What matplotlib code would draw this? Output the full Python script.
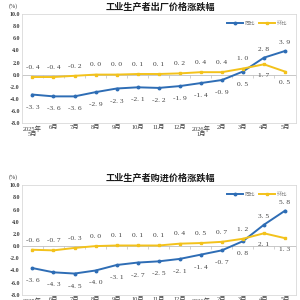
import matplotlib
matplotlib.use("Agg")
import matplotlib.pyplot as plt
import numpy as np

months = ["2025年\n5月", "6月", "7月", "8月", "9月", "10月", "11月", "12月", "2026年\n1月", "2月", "3月", "4月", "5月"]
ppi_yoy = [-3.3, -3.6, -3.6, -2.9, -2.3, -2.1, -2.2, -1.9, -1.4, -0.9, 0.5, 2.8, 3.9]
ppi_mom = [-0.4, -0.4, -0.2, 0.0, 0.0, 0.1, 0.1, 0.2, 0.4, 0.4, 1.0, 1.7, 0.5]
ppirm_yoy = [-3.6, -4.3, -4.5, -4.0, -3.1, -2.7, -2.5, -2.1, -1.4, -0.7, 0.8, 3.5, 5.8]
ppirm_mom = [-0.6, -0.7, -0.3, 0.0, 0.1, 0.1, 0.1, 0.4, 0.5, 0.7, 1.2, 2.1, 1.3]
yticks = [10.0, 8.0, 6.0, 4.0, 2.0, 0.0, -2.0, -4.0, -6.0, -8.0]
titles = ["工业生产者出厂价格涨跌幅", "工业生产者购进价格涨跌幅"]
legend_labels = ["同比", "环比"]

BLUE = "#2E6DB5"
YELLOW = "#F3C21B"
SERIF = ["Liberation Serif", "Noto Sans CJK SC"]
CJK = ["Noto Sans CJK SC", "DejaVu Sans"]

fig = plt.figure(figsize=(3, 3), dpi=100)
positions = [[0.073, 0.59, 0.912, 0.363], [0.073, 0.017, 0.912, 0.366]]
datasets = [(ppi_yoy, ppi_mom), (ppirm_yoy, ppirm_mom)]
flip_from = 11

for k in range(2):
    ax = fig.add_axes(positions[k])
    yoy, mom = datasets[k]
    x = np.arange(len(months))
    ax.plot(x, yoy, color=BLUE, lw=1.4, marker="o", ms=1.8, label=legend_labels[0], zorder=3)
    ax.plot(x, mom, color=YELLOW, lw=1.4, marker="s", ms=1.8, label=legend_labels[1], zorder=3)
    ax.set_xlim(-0.5, len(months) - 0.5)
    ax.set_ylim(-8, 10)
    ax.set_yticks(yticks)
    ax.set_yticklabels([f"{v:.1f}" for v in yticks], family=SERIF, fontsize=4.3, fontweight="bold", color="#404040")
    ax.set_xticks(x)
    ax.set_xticklabels(months, family=SERIF, fontsize=4.6, color="#404040", linespacing=1.0)
    ax.tick_params(length=0, pad=1.5)
    for s in ax.spines.values():
        s.set_color("#D9D9D9")
        s.set_linewidth(0.6)
    sec = ax.secondary_xaxis(8 / 18)
    sec.set_xticks(np.arange(-0.5, len(months), 1.0))
    sec.set_xticklabels([])
    sec.tick_params(length=2, width=0.5, color="#BFBFBF", direction="out")
    sec.spines["bottom"].set_color("#BFBFBF")
    sec.spines["bottom"].set_linewidth(0.6)

    for i in range(len(months)):
        if i >= flip_from:
            yo, mo = 6, -8
        else:
            yo, mo = -9, 7
        ax.annotate(f"{yoy[i]:.1f}".replace(".", ". "), (x[i], yoy[i]), xytext=(0, yo), textcoords="offset points",
                    ha="center", va="center", fontsize=5.3, family=SERIF, color="#404040")
        ax.annotate(f"{mom[i]:.1f}".replace(".", ". "), (x[i], mom[i]), xytext=(0, mo), textcoords="offset points",
                    ha="center", va="center", fontsize=5.3, family=SERIF, color="#404040")

    leg = ax.legend(loc="upper right", bbox_to_anchor=(0.98, 0.97), ncol=2, frameon=False,
                    prop={"family": CJK, "size": 3.8}, handlelength=3.0, columnspacing=0.8,
                    handletextpad=0.3, borderaxespad=0.2)
    for t in leg.get_texts():
        t.set_color("#808080")

    top_px = positions[k][1] + positions[k][3]
    fig.text(0.533, top_px + 0.023, titles[k], ha="center", va="center", family=CJK,
             fontsize=6.6, fontweight="bold", color="#1a1a1a")
    fig.text(0.045, top_px + 0.027, "(%)", ha="center", va="center", family=SERIF, fontsize=4.3, color="#404040")

fig.savefig("out.png", dpi=100)
